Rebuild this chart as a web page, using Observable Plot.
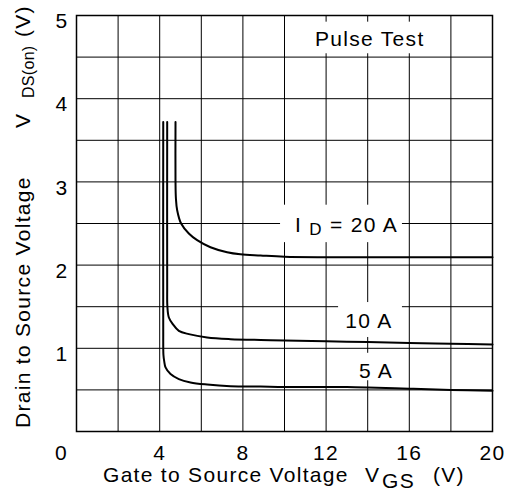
<!DOCTYPE html>
<html><head><meta charset="utf-8">
<script src="https://cdn.jsdelivr.net/npm/d3@7"></script>
<script src="https://cdn.jsdelivr.net/npm/@observablehq/plot@0.6"></script>
<style>body{margin:0;background:#fff} svg{display:block}</style>
</head><body><div id="chart"></div>
<script>
const xTicks = [4, 8, 12, 16, 20];
const xTickZero = [0];
const yTicks = [1, 2, 3, 4, 5];
const xGrid = [2, 4, 6, 8, 10, 12, 14, 16, 18];
const yGrid = [0.5, 1, 1.5, 2, 2.5, 3, 3.5, 4, 4.5];

// I_D = 5 A
const vgs5 = [4.17, 4.17, 4.18, 4.22, 4.28, 4.52, 4.92, 5.48, 6.28, 7.4, 8.85, 10, 12, 13, 14, 16, 18, 20];
const vds5 = [3.72, 1.2, 0.92, 0.84, 0.77, 0.69, 0.63, 0.59, 0.565, 0.545, 0.54, 0.535, 0.535, 0.535, 0.53, 0.515, 0.5, 0.49];
// I_D = 10 A
const vgs10 = [4.36, 4.36, 4.37, 4.44, 4.63, 4.92, 5.4, 6.28, 7.4, 8.85, 10, 12, 14, 16, 18, 20];
const vds10 = [3.72, 1.75, 1.5, 1.37, 1.29, 1.21, 1.17, 1.13, 1.11, 1.10, 1.095, 1.085, 1.075, 1.065, 1.055, 1.046];
// I_D = 20 A
const vgs20 = [4.76, 4.76, 4.78, 4.84, 5.03, 5.4, 5.8, 6.44, 7.24, 7.88, 8.85, 10, 12, 14, 16, 18, 20];
const vds20 = [3.72, 3.0, 2.8, 2.66, 2.5, 2.38, 2.3, 2.215, 2.155, 2.13, 2.115, 2.10, 2.095, 2.095, 2.095, 2.095, 2.095];

const seriesNames = ["5 A", "10 A", "20 A"];
const seriesX = [vgs5, vgs10, vgs20];
const seriesY = [vds5, vds10, vds20];
const curves = seriesNames.flatMap((name, i) => seriesX[i].map((x, j) => ({name, x, y: seriesY[i][j]})));

// annotations (text, anchor and white backing box in data units)
const labelText = ["Pulse Test", "I D = 20 A", "10 A", "5 A"];
const labelX = [14.1, 12.98, 14.06, 14.4];
const labelY = [4.72, 2.476, 1.32, 0.727];
const boxX1 = [10.8, 9.81, 12.6, 13.27];
const boxX2 = [17.5, 15.67, 15.67, 15.67];
const boxY1 = [4.54, 2.27, 1.13, 0.61];
const boxY2 = [4.92, 2.72, 1.55, 0.94];
const labels = labelText.map((t, i) => ({t, x: labelX[i], y: labelY[i], x1: boxX1[i], x2: boxX2[i], y1: boxY1[i], y2: boxY2[i]}));

const font = "'Liberation Sans', Arial, Helvetica, sans-serif";

const svg = Plot.plot({
  width: 507,
  height: 496,
  marginTop: 15,
  marginLeft: 76,
  marginRight: 15,
  marginBottom: 65,
  style: {fontFamily: font, fontSize: "21px", letterSpacing: "1.3px", color: "#000", background: "#fff"},
  x: {domain: [0, 20]},
  y: {domain: [0, 5]},
  marks: [
    Plot.ruleX(xGrid, {stroke: "#000", strokeWidth: 1}),
    Plot.ruleY(yGrid, {stroke: "#000", strokeWidth: 1}),
    Plot.rect(labels, {x1: "x1", x2: "x2", y1: "y1", y2: "y2", fill: "white"}),
    Plot.line(curves, {x: "x", y: "y", z: "name", stroke: "#000", strokeWidth: 2, curve: "catmull-rom"}),
    Plot.text(labels, {x: "x", y: "y", text: "t", fill: "#000", fontSize: 21, textAnchor: "middle", lineAnchor: "middle"}),
    Plot.frame({stroke: "#000", strokeWidth: 1.5}),
    Plot.axisX(xTicks, {tickSize: 0, tickPadding: 14, label: null, fontSize: 21, tickFormat: d3.format("d")}),
    Plot.axisX(xTickZero, {tickSize: 0, tickPadding: 14, label: null, fontSize: 21, dx: -15, tickFormat: d3.format("d")}),
    Plot.axisY(yTicks, {tickSize: 0, tickPadding: 8, label: null, fontSize: 21, dy: 6, tickFormat: d3.format("d")})
  ]
});

const s = d3.select(svg);
// subscript in the I_D label
s.selectAll("text").each(function () {
  if (this.textContent === "I D = 20 A") {
    const t = d3.select(this);
    t.text(null);
    t.append("tspan").text("I ");
    t.append("tspan").attr("font-size", 17).attr("dy", 3).text("D");
    t.append("tspan").attr("font-size", 21).attr("dy", -3).text(" = 20 A");
  }
});

const g = s.append("g").attr("font-family", font).attr("font-size", 21).attr("fill", "#000")
  .attr("text-anchor", "start").style("letter-spacing", "1.3px");
// x-axis title
g.append("text").attr("x", 103).attr("y", 482).text("Gate to Source Voltage");
g.append("text").attr("x", 365).attr("y", 482).text("V");
g.append("text").attr("x", 382).attr("y", 488).text("GS");
g.append("text").attr("x", 433).attr("y", 482).text("(V)");
// y-axis title (rotated)
const gy = g.append("g").attr("transform", "rotate(-90)");
gy.append("text").attr("x", -428).attr("y", 30).text("Drain to Source Voltage");
gy.append("text").attr("x", -128).attr("y", 30).text("V");
gy.append("text").attr("x", -98).attr("y", 34).attr("font-size", 16).style("letter-spacing", "0.3px").text("DS(on)");
gy.append("text").attr("x", -37).attr("y", 30).text("(V)");

document.getElementById("chart").append(svg);
</script>
</body></html>
